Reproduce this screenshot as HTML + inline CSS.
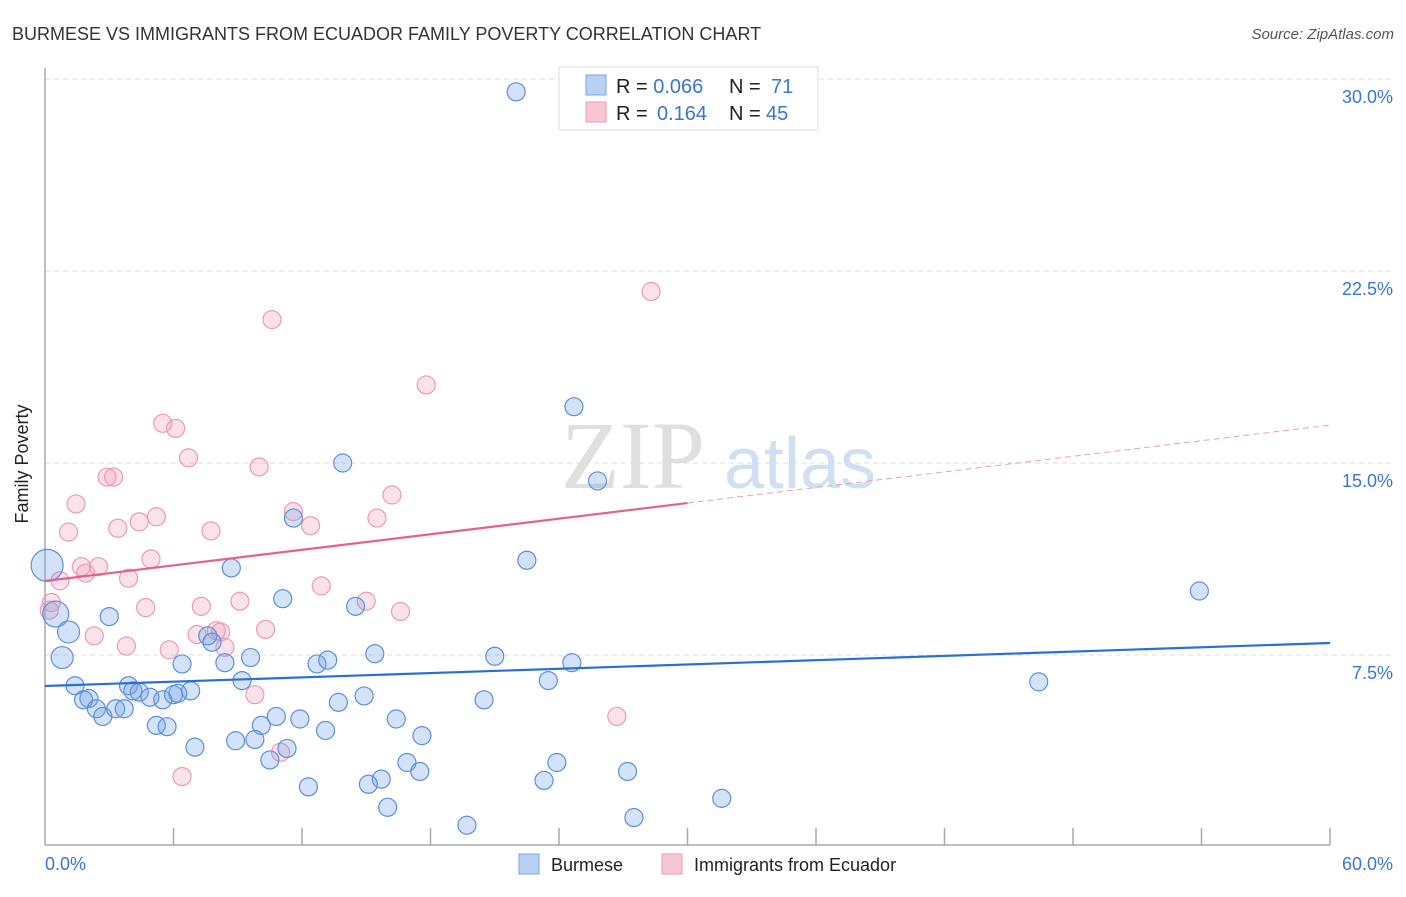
<!DOCTYPE html>
<html><head><meta charset="utf-8"><style>
body{margin:0;background:#fff;font-family:"Liberation Sans",sans-serif;}
</style></head><body>
<svg width="1406" height="892" xmlns="http://www.w3.org/2000/svg">
<text x="12" y="40" font-size="18" fill="#333">BURMESE VS IMMIGRANTS FROM ECUADOR FAMILY POVERTY CORRELATION CHART</text>
<text x="1394" y="39" font-size="15" fill="#555" text-anchor="end" font-style="italic">Source: ZipAtlas.com</text>
<g>
<text x="633" y="488" font-size="96" font-family="Liberation Serif" fill="#d8d8d8" text-anchor="middle" opacity="0.8">ZIP</text>
<text x="800" y="488" font-size="72" fill="#c6d8f0" text-anchor="middle" opacity="0.8">atlas</text>
</g>
<g id="grid"></g>
<line x1="45" y1="68" x2="45" y2="845" stroke="#aaa" stroke-width="1.5"/>
<line x1="45" y1="845" x2="1330" y2="845" stroke="#aaa" stroke-width="1.5"/>
<text x="20" y="456" font-size="18" fill="#222" transform="rotate(-90 28 456)" text-anchor="middle">Family Poverty</text>
<text x="45" y="870" font-size="18" fill="#3a75d1">0.0%</text>
<text x="1393" y="870" font-size="18" fill="#3a75d1" text-anchor="end">60.0%</text>
<g id="pts"></g>
<g id="lines"></g>
<g>
<rect x="559" y="67" width="259" height="63" fill="#fff" stroke="#ddd"/>
<rect x="586" y="75" width="20" height="20" fill="#b8d0f2" stroke="#7aa6e6"/>
<rect x="586" y="102" width="20" height="20" fill="#f9c6d4" stroke="#ec9ab3"/>
<text x="616" y="93" font-size="20" fill="#222">R = <tspan fill="#3a75d1">0.066</tspan><tspan x="729">N = </tspan><tspan x="771" fill="#3a75d1">71</tspan></text>
<text x="616" y="120" font-size="20" fill="#222">R = <tspan x="657" fill="#3a75d1">0.164</tspan><tspan x="729">N = </tspan><tspan x="766" fill="#3a75d1">45</tspan></text>
</g>
<g>
<rect x="519" y="854" width="20" height="20" fill="#b8d0f2" stroke="#7aa6e6"/>
<text x="551" y="871" font-size="18" fill="#222">Burmese</text>
<rect x="662" y="854" width="20" height="20" fill="#f9c6d4" stroke="#ec9ab3"/>
<text x="694" y="871" font-size="18" fill="#222">Immigrants from Ecuador</text>
</g>
</svg>
<script>
const yTicks=[7.5,15,22.5,30];
const yTickLabels=["7.5%","15.0%","22.5%","30.0%"];
const xTicks=[6,12,18,24,30,36,42,48,54,60];
const blueX=[22.0,24.7,25.8,13.9,22.5,53.9,46.4,8.7,11.1,11.6,3.0,0.1,0.5,1.1,0.8,14.5,15.4,21.0,24.6,23.5,7.6,7.8,9.6,8.4,6.4,12.7,13.2,9.2,1.4,3.9,4.4,4.9,5.5,6.2,6.8,2.05,1.8,2.4,2.7,3.3,3.7,13.7,14.9,20.5,10.8,11.9,10.1,5.2,5.7,13.1,16.4,17.6,7.0,8.9,9.8,11.3,10.5,16.9,17.5,15.7,15.1,23.9,23.3,27.2,12.3,16.0,31.6,27.5,19.7,4.1,6.0];
const blueY=[29.5,17.2,14.3,15.0,11.2,10.0,6.45,10.9,9.7,12.85,9.0,11.0,9.1,8.4,7.4,9.4,7.55,7.45,7.2,6.5,8.25,8.0,7.4,7.2,7.15,7.15,7.3,6.5,6.3,6.3,6.05,5.85,5.75,6.0,6.1,5.8,5.75,5.4,5.1,5.4,5.4,5.65,5.9,5.75,5.1,5.0,4.75,4.75,4.7,4.55,5.0,4.35,3.9,4.15,4.2,3.85,3.4,3.3,2.95,2.65,2.45,3.3,2.6,2.95,2.35,1.55,1.9,1.15,0.85,6.1,5.95];
const blueR=[9,9,9,9,9,9,9,9,9,9,9,16,13,11,11,9,9,9,9,9,9,9,9,9,9,9,9,9,9,9,9,9,9,9,9,9,9,9,9,9,9,9,9,9,9,9,9,9,9,9,9,9,9,9,9,9,9,9,9,9,9,9,9,9,9,9,9,9,9,9,9];
const pinkX=[28.3,10.6,17.8,5.5,6.1,6.7,2.9,3.2,10.0,1.45,16.2,11.6,5.2,4.4,3.4,12.4,15.5,7.75,1.1,4.95,1.7,2.5,1.9,0.7,3.9,12.9,9.1,15.0,16.6,4.7,7.3,0.3,0.2,10.3,2.3,8.0,8.2,7.1,3.8,5.8,8.4,9.8,26.7,11.0,6.4];
const pinkY=[21.7,20.6,18.05,16.55,16.35,15.2,14.45,14.45,14.85,13.4,13.75,13.1,12.9,12.7,12.45,12.55,12.85,12.35,12.3,11.25,10.95,10.95,10.7,10.4,10.5,10.2,9.6,9.6,9.2,9.35,9.4,9.55,9.25,8.5,8.25,8.45,8.4,8.3,7.85,7.7,7.8,5.95,5.1,3.7,2.75];
const blueTrend=[6.29,7.97]; // value at x=0 and x=60
const pinkTrend=[10.39,16.48];
const pinkSolidEnd=30;
const NS="http://www.w3.org/2000/svg";
const X=v=>45+v*1285/60, Y=v=>847-v*25.6;
function mk(t,a,p){const e=document.createElementNS(NS,t);for(const k in a)e.setAttribute(k,a[k]);p.appendChild(e);return e;}
const grid=document.getElementById('grid');
yTicks.forEach((t,i)=>{
 const l=mk('line',{x1:45,x2:1393,y1:Y(t),y2:Y(t),stroke:'#ddd','stroke-dasharray':'5,4'},grid);
 
 
 const tx=mk('text',{x:1393,y:Y(t)+24,'font-size':18,fill:'#3a75d1','text-anchor':'end'},grid);
 tx.textContent=yTickLabels[i];
 
 
});
xTicks.forEach(t=>{
 const l=mk('line',{x1:X(t),x2:X(t),y1:828,y2:845,stroke:'#aaa','stroke-width':1.5},grid);
 
 
});
const pts=document.getElementById('pts');
pinkX.forEach((x,i)=>{
 const c=mk('circle',{cx:X(x),cy:Y(pinkY[i]),r:9,fill:'rgba(242,150,180,0.28)',stroke:'#eb9ab4','stroke-width':1.2},pts);
 
 
});
blueX.forEach((x,i)=>{
 const c=mk('circle',{cx:X(x),cy:Y(blueY[i]),r:blueR[i],fill:'rgba(110,160,230,0.3)',stroke:'#5b8fdd','stroke-width':1.2},pts);
 
 
});
const lines=document.getElementById('lines');
const py=x=>pinkTrend[0]+(pinkTrend[1]-pinkTrend[0])*x/60;
let l1=mk('line',{x1:X(0),y1:Y(blueTrend[0]),x2:X(60),y2:Y(blueTrend[1]),stroke:'#2a6fd6','stroke-width':2.2},lines);


let l2=mk('line',{x1:X(0),y1:Y(py(0)),x2:X(pinkSolidEnd),y2:Y(py(pinkSolidEnd)),stroke:'#e6608e','stroke-width':2.2},lines);


let l3=mk('line',{x1:X(pinkSolidEnd),y1:Y(py(pinkSolidEnd)),x2:X(60),y2:Y(py(60)),stroke:'#e6a0b8','stroke-width':1,'stroke-dasharray':'6,4'},lines);


</script>
</body></html>
